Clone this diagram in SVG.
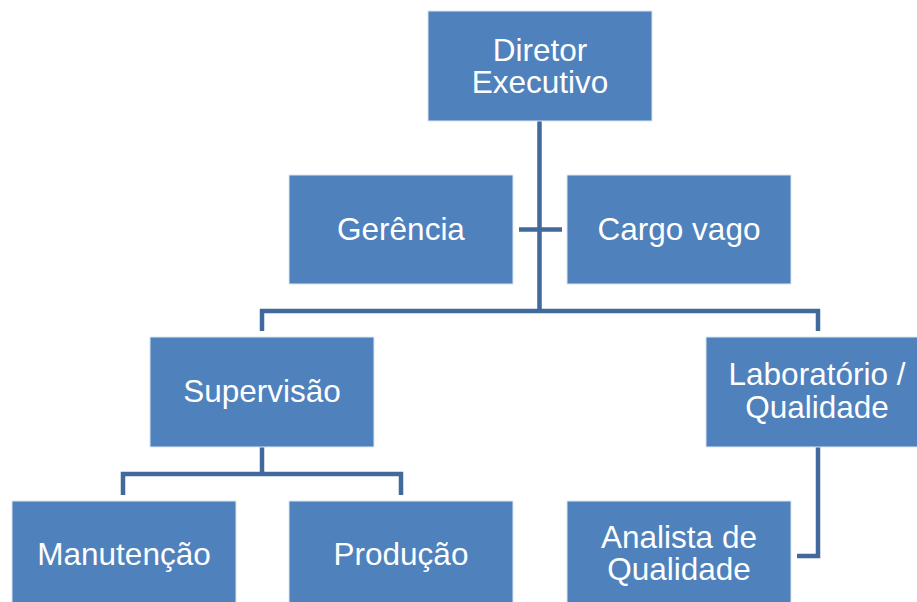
<svg xmlns="http://www.w3.org/2000/svg" width="917" height="602" viewBox="0 0 917 602">
<style>
.box{fill:#4F81BD;stroke:#DCE6F2;stroke-width:1}
.lbl{fill:#FFFFFF;font-family:"Liberation Sans",Arial,sans-serif;font-size:31.5px;text-anchor:middle}
.con{fill:none;stroke:#41699C;stroke-width:4.5;stroke-linejoin:miter}
</style>
<rect width="917" height="602" fill="#FFFFFF"/>
<g id="connectors">
<path class="con" d="M539.5,121 V311"/>
<path class="con" d="M519,229.5 H562"/>
<path class="con" d="M262,331 V311 H818 V331"/>
<path class="con" d="M262,447 V474"/>
<path class="con" d="M123,495 V474 H401 V495"/>
<path class="con" d="M818,447 V556 H797"/>
</g>
<g id="diretor">
<rect class="box" x="428" y="11" width="224" height="110"/>
<text class="lbl" x="540" y="61">Diretor</text>
<text class="lbl" x="540" y="93">Executivo</text>
</g>
<g id="gerencia">
<rect class="box" x="289" y="175" width="224" height="109"/>
<text class="lbl" x="401" y="240">Gerência</text>
</g>
<g id="cargo-vago">
<rect class="box" x="567" y="175" width="224" height="109"/>
<text class="lbl" x="679" y="240">Cargo vago</text>
</g>
<g id="supervisao">
<rect class="box" x="150" y="337" width="224" height="110"/>
<text class="lbl" x="262" y="402">Supervisão</text>
</g>
<g id="laboratorio">
<rect class="box" x="706" y="337" width="224" height="110"/>
<text class="lbl" x="817" y="385">Laboratório /</text>
<text class="lbl" x="817" y="418">Qualidade</text>
</g>
<g id="manutencao">
<rect class="box" x="12" y="501" width="224" height="110"/>
<text class="lbl" x="124" y="565">Manutenção</text>
</g>
<g id="producao">
<rect class="box" x="289" y="501" width="224" height="110"/>
<text class="lbl" x="401" y="565">Produção</text>
</g>
<g id="analista">
<rect class="box" x="567" y="501" width="224" height="110"/>
<text class="lbl" x="679" y="548">Analista de</text>
<text class="lbl" x="679" y="580">Qualidade</text>
</g>
</svg>
